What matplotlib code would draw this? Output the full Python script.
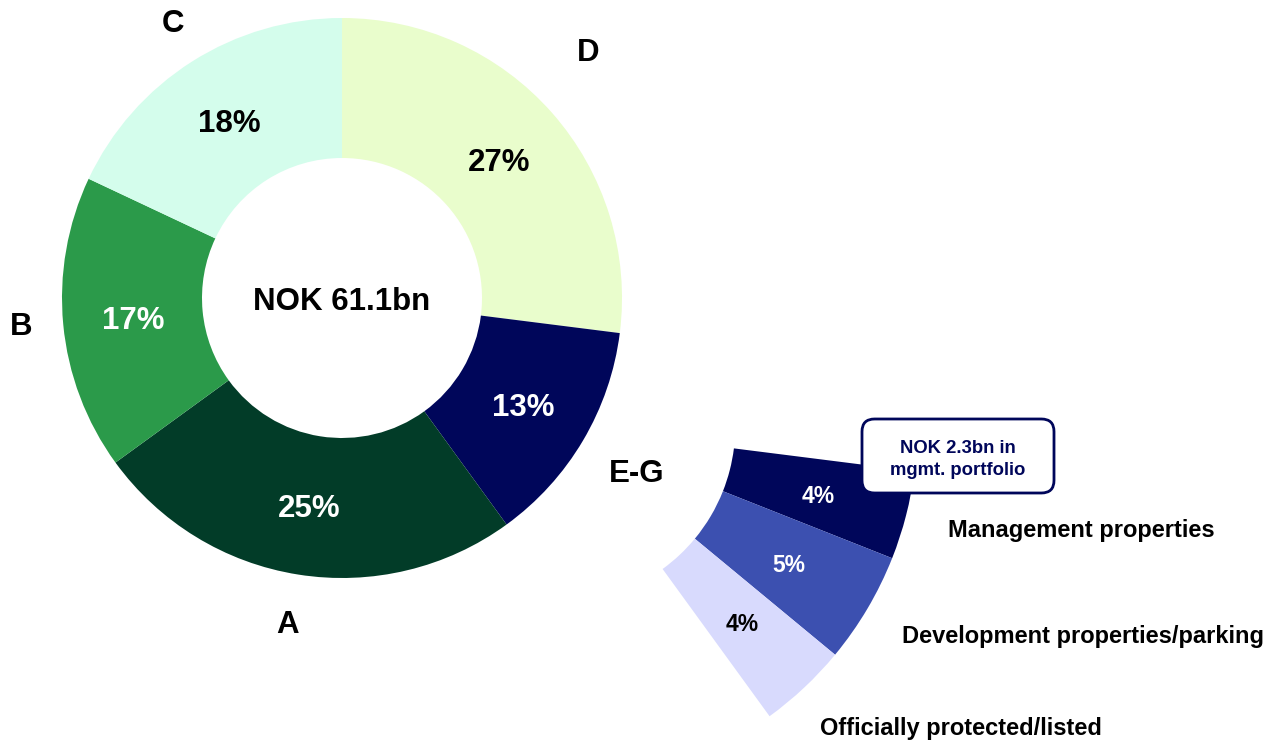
import matplotlib
matplotlib.use('Agg')
import matplotlib.pyplot as plt
import matplotlib.transforms as mtransforms
import numpy as np
from matplotlib.patches import FancyBboxPatch

plt.rcParams['font.family'] = ['Liberation Sans', 'DejaVu Sans']
plt.rcParams['font.weight'] = 'bold'

# main donut, clockwise from 12 o'clock
segments = ['D', 'E-G', 'A', 'B', 'C']
shares = [27, 13, 25, 17, 18]
seg_colors = ['#E9FDCC', '#00065A', '#023C28', '#2B9A4A', '#D4FDEC']
pct_colors = ['black', 'white', 'white', 'white', 'black']
total_label = 'NOK 61.1bn'

# breakdown of E-G
sub_names = ['Management properties', 'Development properties/parking',
             'Officially protected/listed']
sub_shares = [4, 5, 4]
sub_colors = ['#00065A', '#3C50B0', '#D8DAFD']
sub_pct_colors = ['white', 'white', 'black']
box_text = 'NOK 2.3bn in\nmgmt. portfolio'

W, H = 1268, 743
cx, cy, R = 342, 298, 280   # donut centre / radius in pixels
navy = '#00065A'

fig = plt.figure(figsize=(W / 100, H / 100), dpi=100)
ax = fig.add_axes([0, 0, 1, 1])
# text sits a few pixels lower than matplotlib's centre alignment
tdata = mtransforms.offset_copy(ax.transData, fig=fig, y=-3.5, units='dots')

wedges, _ = ax.pie(shares, colors=seg_colors, startangle=90, counterclock=False,
                   radius=1, wedgeprops=dict(width=0.5, linewidth=0))

# label placement (radius, angle shift in degrees)
label_r = [1.25, 1.22, 1.17, 1.15, 1.16]
label_shift = [3.8, 0.3, -0.5, -0.8, -1.0]
for w, name, v, pc, lr, ls in zip(wedges, segments, shares, pct_colors, label_r, label_shift):
    mid = np.deg2rad((w.theta1 + w.theta2) / 2)
    ax.text(0.75 * np.cos(mid), 0.75 * np.sin(mid), f'{v}%', color=pc,
            fontsize=22.5, ha='center', va='center', transform=tdata)
    a = mid + np.deg2rad(ls)
    ax.text(lr * np.cos(a), lr * np.sin(a), name, color='black',
            fontsize=22.5, ha='center', va='center', transform=tdata)

ax.text(0, 0, total_label, fontsize=22.5, ha='center', va='center', transform=tdata)

# exploded E-G wedge, pushed out along its bisector and enlarged
eg = wedges[1]
mid_eg = np.deg2rad((eg.theta1 + eg.theta2) / 2)
center = (0.9 * np.cos(mid_eg), 0.9 * np.sin(mid_eg))
sub_r = 1.28
sub_w = 0.65
sub_wedges, _ = ax.pie([s / 100 for s in sub_shares], normalize=False, colors=sub_colors,
                       startangle=eg.theta2, counterclock=False, radius=sub_r,
                       center=center, wedgeprops=dict(width=sub_w, linewidth=0))
rr = sub_r - sub_w / 2
for w, v, pc in zip(sub_wedges, sub_shares, sub_pct_colors):
    mid = np.deg2rad((w.theta1 + w.theta2) / 2)
    ax.text(center[0] + rr * np.cos(mid), center[1] + rr * np.sin(mid), f'{v}%',
            color=pc, fontsize=16.5, ha='center', va='center', transform=tdata)

# category names to the right
name_pos = [(1081, 530), (1083, 637), (961, 729)]
for name, (px, py) in zip(sub_names, name_pos):
    ax.text(px / W, 1 - py / H, name, transform=ax.transAxes, fontsize=17,
            ha='center', va='center')

# callout box
bx0, by0, bx1, by1 = 862, 419, 1054, 493
box = FancyBboxPatch(((bx0 - cx) / R, (cy - by1) / R), (bx1 - bx0) / R, (by1 - by0) / R,
                     boxstyle='round,pad=0,rounding_size=0.045',
                     facecolor='white', edgecolor=navy, linewidth=2, zorder=5)
ax.add_patch(box)
ax.text(((bx0 + bx1) / 2 - cx) / R, (cy - (by0 + by1) / 2) / R, box_text, color=navy,
        fontsize=13.3, ha='center', va='center', linespacing=1.4, zorder=6,
        transform=tdata)

ax.set_xlim(-cx / R, (W - cx) / R)
ax.set_ylim(-(H - cy) / R, cy / R)
ax.set_aspect('auto')
ax.axis('off')

fig.savefig('out.png', dpi=100)
